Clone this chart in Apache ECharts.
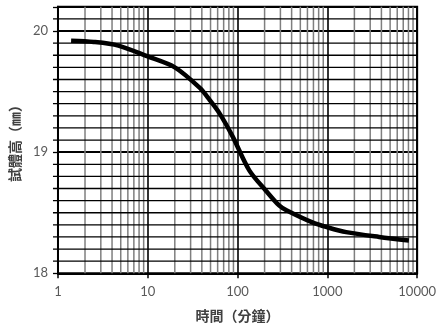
<!DOCTYPE html>
<html>
<head>
<meta charset="utf-8">
<script src="https://cdn.jsdelivr.net/npm/echarts@6/dist/echarts.min.js"></script>
<style>
html,body{margin:0;padding:0;background:#fff;}
#c{width:439px;height:331px;}
</style>
</head>
<body>
<div id="c"></div>
<script>
const times = [1.4, 2.5, 4.7, 10, 20, 38, 49, 63, 88, 135, 208, 290, 350, 680, 1000, 1620, 3770, 8100];
const heights = [19.92, 19.91, 19.88, 19.79, 19.70, 19.53, 19.43, 19.32, 19.13, 18.85, 18.68, 18.56, 18.52, 18.42, 18.38, 18.34, 18.30, 18.27];
const minorX = [2,3,4,5,6,7,8,9,20,30,40,50,60,70,80,90,200,300,400,500,600,700,800,900,2000,3000,4000,5000,6000,7000,8000,9000];
const minorY = [18.1,18.2,18.3,18.4,18.5,18.6,18.7,18.8,18.9,19.1,19.2,19.3,19.4,19.5,19.6,19.7,19.8,19.9,20.1];
const xName = '時間（分鐘）';
const yName = '試體高（㎜）';

const chart = echarts.init(document.getElementById('c'));
const numFont = 'Lato, "Liberation Sans", sans-serif';
const cjkFont = '"Noto Sans CJK TC", "Noto Sans CJK SC", sans-serif';

chart.setOption({
  animation: false,
  grid: {left: 57.5, right: 21.5, top: 6.8, bottom: 57.7, show: true, borderColor: '#000', borderWidth: 2, containLabel: false},
  xAxis: {
    type: 'log', logBase: 10, min: 1, max: 10000,
    name: xName, nameLocation: 'middle', nameGap: 35,
    nameTextStyle: {fontFamily: cjkFont, fontWeight: 'bold', fontSize: 14, color: '#404040'},
    axisLine: {show: true, lineStyle: {color: '#000', width: 2}},
    axisTick: {show: true, length: 5, lineStyle: {color: '#000', width: 1.5}},
    axisLabel: {margin: 12, fontFamily: numFont, fontSize: 13, color: '#595959', formatter: v => String(Math.round(v))},
    splitLine: {show: true, lineStyle: {color: '#000', width: 1.6}},
    minorTick: {show: false}, minorSplitLine: {show: false}
  },
  yAxis: {
    type: 'value', min: 18, max: 20.2, interval: 1,
    name: yName, nameLocation: 'middle', nameGap: 33, nameRotate: 90,
    nameTextStyle: {fontFamily: cjkFont, fontWeight: 'bold', fontSize: 14, color: '#404040'},
    axisLine: {show: true, lineStyle: {color: '#000', width: 2}},
    axisTick: {show: true, length: 5, lineStyle: {color: '#000', width: 1.3}},
    axisLabel: {margin: 10, fontFamily: numFont, fontSize: 13, color: '#595959',
      formatter: v => (Math.abs(v - Math.round(v)) < 1e-6 ? String(Math.round(v)) : '')},
    splitLine: {show: true, lineStyle: {color: '#000', width: 2}}
  },
  series: [
    {
      type: 'custom', silent: true, z: 1,
      data: minorX.map(v => [v]),
      encode: {x: 0},
      renderItem: (params, api) => {
        const v = api.value(0);
        const p1 = api.coord([v, 18]);
        const p2 = api.coord([v, 20.2]);
        return {type: 'line', shape: {x1: p1[0], y1: p1[1], x2: p2[0], y2: p2[1]}, style: {stroke: '#7f7f7f', lineWidth: 1.5}};
      }
    },
    {
      type: 'custom', silent: true, z: 2, clip: false,
      data: minorY.map(v => [1, v]),
      encode: {x: 0, y: 1},
      renderItem: (params, api) => {
        const v = api.value(1);
        const p1 = api.coord([1, v]);
        const p2 = api.coord([10000, v]);
        return {type: 'line', shape: {x1: p1[0] - 5, y1: p1[1], x2: p2[0], y2: p2[1]}, style: {stroke: '#000', lineWidth: 1.3}};
      }
    },
    {
      type: 'line', z: 5, smooth: 0.3, showSymbol: false, symbol: 'none',
      lineStyle: {color: '#000', width: 4.5},
      data: times.map((t, i) => [t, heights[i]])
    }
  ]
});
</script>
</body>
</html>
